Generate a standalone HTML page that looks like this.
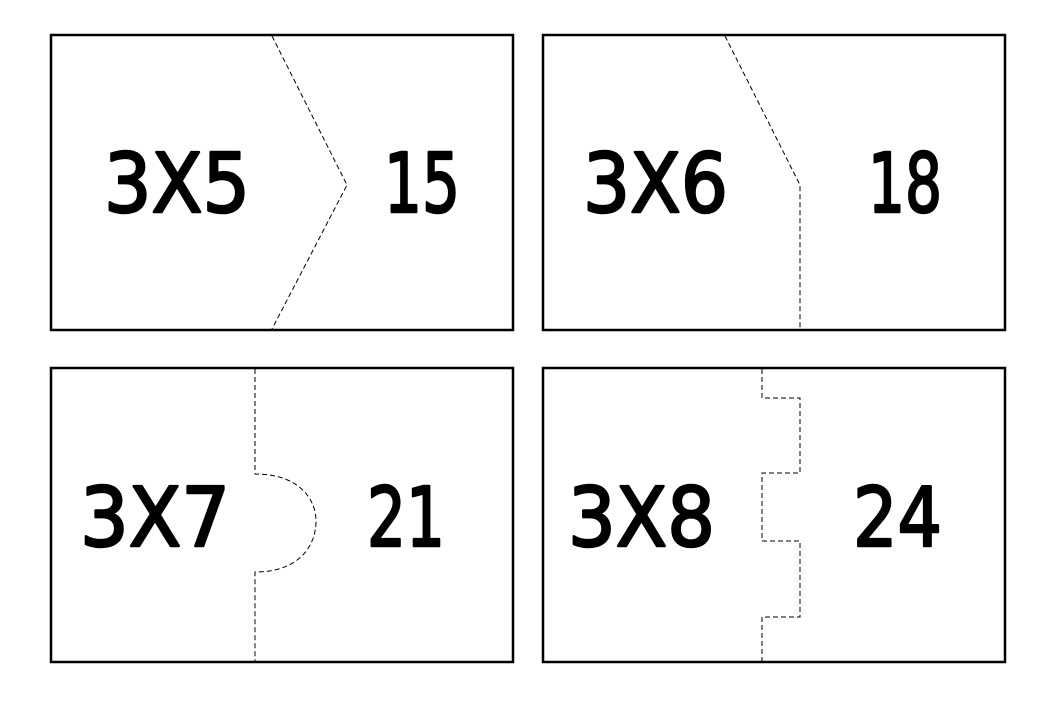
<!DOCTYPE html>
<html><head><meta charset="utf-8"><style>html,body{margin:0;padding:0;background:#fff}svg{display:block}</style></head>
<body>
<svg width="1040" height="720" viewBox="0 0 1040 720" xmlns="http://www.w3.org/2000/svg">
<rect width="1040" height="720" fill="#fff"/>
<g fill="none" stroke="#000" stroke-width="2.5">
<rect x="51" y="35" width="462" height="295"/>
<rect x="543" y="35" width="462" height="295"/>
<rect x="51" y="368" width="462" height="294"/>
<rect x="543" y="368" width="462" height="294"/>
</g>
<g fill="none" stroke="#000" stroke-width="1" stroke-dasharray="5,3">
<path d="M272,36 L347,185 L272,329"/>
<path d="M725,36 L800,185 L800,329"/>
<path d="M255,369 V474 C300,474 316,500 316,521 C316,545 300,572 255,572 V661"/>
<path d="M762,369 V398 H800 V473 H762 V541 H800 V617 H762 V661"/>
</g>
<g font-family="'DejaVu Sans','Liberation Sans',sans-serif" font-size="82" fill="#000" stroke="#000" stroke-width="2.5" stroke-linejoin="round">
<text x="104" y="212" textLength="146" lengthAdjust="spacingAndGlyphs">3X5</text>
<text x="384" y="212" textLength="76" lengthAdjust="spacingAndGlyphs">15</text>
<text x="583" y="212" textLength="145" lengthAdjust="spacingAndGlyphs">3X6</text>
<text x="868" y="212" textLength="74" lengthAdjust="spacingAndGlyphs">18</text>
<text x="80" y="546" textLength="150" lengthAdjust="spacingAndGlyphs">3X7</text>
<text x="367" y="546" textLength="78" lengthAdjust="spacingAndGlyphs">21</text>
<text x="568" y="546" textLength="147" lengthAdjust="spacingAndGlyphs">3X8</text>
<text x="853" y="546" textLength="89" lengthAdjust="spacingAndGlyphs">24</text>
</g>
</svg>
</body></html>
